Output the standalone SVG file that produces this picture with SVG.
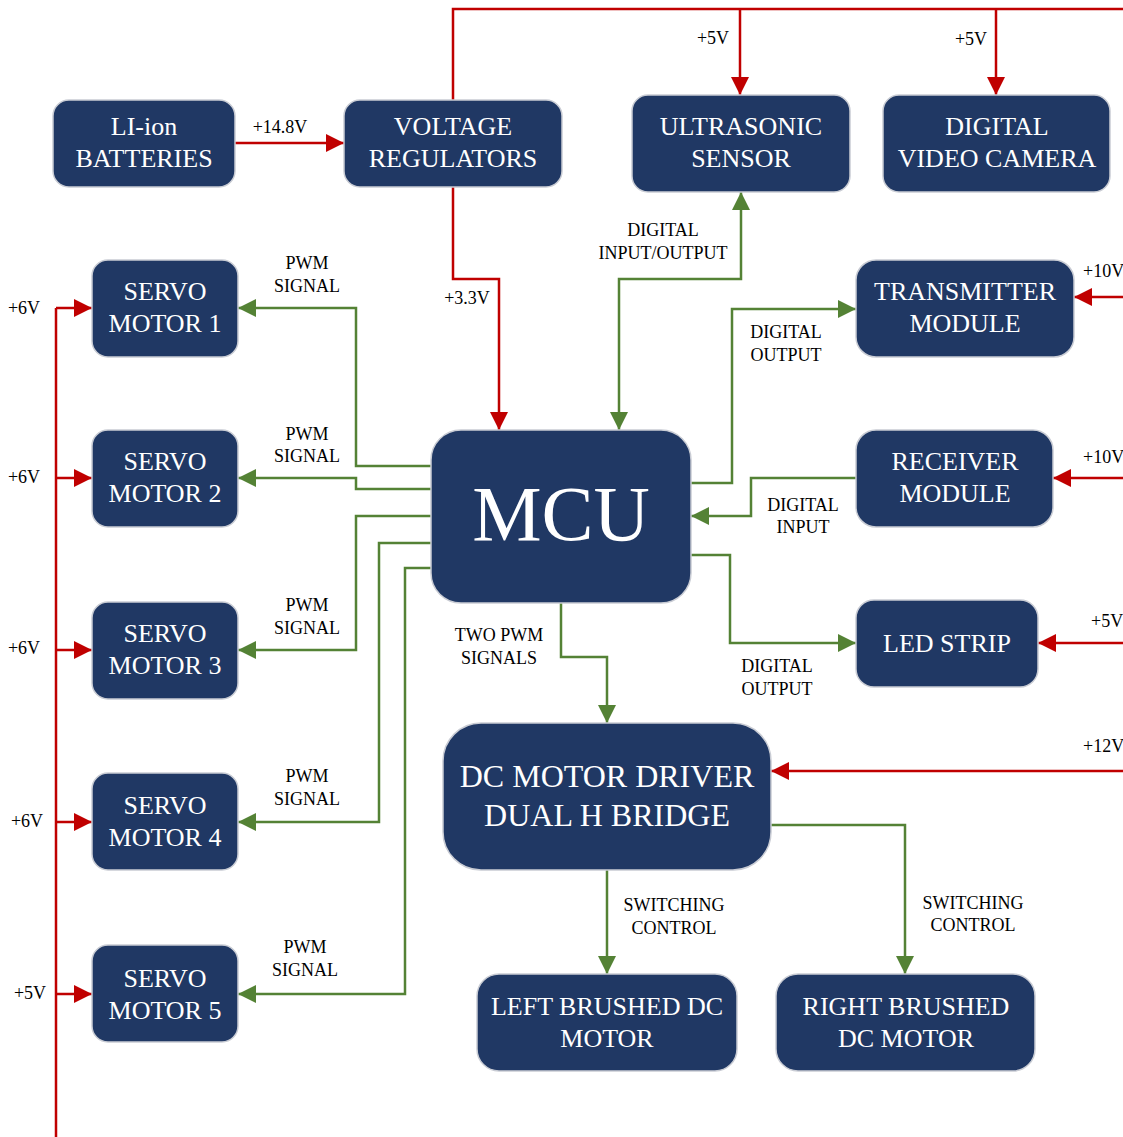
<svg xmlns="http://www.w3.org/2000/svg" width="1123" height="1137" viewBox="0 0 1123 1137">
<style>
.node rect{fill:#203864;stroke:#c9ccd4;stroke-width:1.5}
.nt{font-family:"Liberation Serif","Times New Roman",serif;font-size:26px;fill:#ffffff;text-anchor:middle}
.lb{font-family:"Liberation Serif","Times New Roman",serif;font-size:18px;fill:#000000;text-anchor:middle}
.red{fill:none;stroke:#C00000;stroke-width:2.5}
.grn{fill:none;stroke:#548235;stroke-width:2.5}
</style>
<defs>
<marker id="ar" markerUnits="userSpaceOnUse" markerWidth="18" markerHeight="18" refX="18" refY="9" orient="auto"><path d="M0,0 L18,9 L0,18 z" fill="#C00000"/></marker>
<marker id="ag" markerUnits="userSpaceOnUse" markerWidth="18" markerHeight="18" refX="18" refY="9" orient="auto"><path d="M0,0 L18,9 L0,18 z" fill="#548235"/></marker>
<marker id="ags" markerUnits="userSpaceOnUse" markerWidth="18" markerHeight="18" refX="18" refY="9" orient="auto-start-reverse"><path d="M0,0 L18,9 L0,18 z" fill="#548235"/></marker>
</defs>
<rect width="1123" height="1137" fill="#ffffff"/>
<g id="connectors">
<path class="red" d="M235,143 H344" marker-end="url(#ar)"/>
<path class="red" d="M453,100 V9 H1123"/>
<path class="red" d="M740,9 V95" marker-end="url(#ar)"/>
<path class="red" d="M996,9 V95" marker-end="url(#ar)"/>
<path class="red" d="M453,187 V279 H499 V430" marker-end="url(#ar)"/>
<path class="red" d="M56,308 V1137"/>
<path class="red" d="M56,308 H92" marker-end="url(#ar)"/>
<path class="red" d="M56,478 H92" marker-end="url(#ar)"/>
<path class="red" d="M56,650 H92" marker-end="url(#ar)"/>
<path class="red" d="M56,822 H92" marker-end="url(#ar)"/>
<path class="red" d="M56,994 H92" marker-end="url(#ar)"/>
<path class="red" d="M1123,297 H1074" marker-end="url(#ar)"/>
<path class="red" d="M1123,478 H1053" marker-end="url(#ar)"/>
<path class="red" d="M1123,643 H1038" marker-end="url(#ar)"/>
<path class="red" d="M1123,771 H771" marker-end="url(#ar)"/>
<path class="grn" d="M619,430 V279 H741 V192" marker-start="url(#ags)" marker-end="url(#ag)"/>
<path class="grn" d="M691,483 H732 V309 H856" marker-end="url(#ag)"/>
<path class="grn" d="M857,478 H751 V516 H691" marker-end="url(#ag)"/>
<path class="grn" d="M691,555 H730 V643 H856" marker-end="url(#ag)"/>
<path class="grn" d="M561,603 V657 H607 V723" marker-end="url(#ag)"/>
<path class="grn" d="M431,466 H356 V308 H238" marker-end="url(#ag)"/>
<path class="grn" d="M431,489 H356 V478 H238" marker-end="url(#ag)"/>
<path class="grn" d="M431,516 H356 V650 H238" marker-end="url(#ag)"/>
<path class="grn" d="M431,543 H379 V822 H238" marker-end="url(#ag)"/>
<path class="grn" d="M431,568 H405 V994 H238" marker-end="url(#ag)"/>
<path class="grn" d="M607,870 V974" marker-end="url(#ag)"/>
<path class="grn" d="M771,825 H905 V974" marker-end="url(#ag)"/>
</g>
<g id="labels">
<text class="lb" x="280" y="133">+14.8V</text>
<text class="lb" x="713" y="44">+5V</text>
<text class="lb" x="971" y="45">+5V</text>
<text class="lb" x="467" y="304">+3.3V</text>
<text class="lb" x="663" y="236">DIGITAL</text>
<text class="lb" x="663" y="259">INPUT/OUTPUT</text>
<text class="lb" x="786" y="338">DIGITAL</text>
<text class="lb" x="786" y="361">OUTPUT</text>
<text class="lb" x="803" y="511">DIGITAL</text>
<text class="lb" x="803" y="533">INPUT</text>
<text class="lb" x="777" y="672">DIGITAL</text>
<text class="lb" x="777" y="695">OUTPUT</text>
<text class="lb" x="499" y="641">TWO PWM</text>
<text class="lb" x="499" y="664">SIGNALS</text>
<text class="lb" x="674" y="911">SWITCHING</text>
<text class="lb" x="674" y="934">CONTROL</text>
<text class="lb" x="973" y="909">SWITCHING</text>
<text class="lb" x="973" y="931">CONTROL</text>
<text class="lb" x="307" y="269">PWM</text>
<text class="lb" x="307" y="292">SIGNAL</text>
<text class="lb" x="307" y="440">PWM</text>
<text class="lb" x="307" y="462">SIGNAL</text>
<text class="lb" x="307" y="611">PWM</text>
<text class="lb" x="307" y="634">SIGNAL</text>
<text class="lb" x="307" y="782">PWM</text>
<text class="lb" x="307" y="805">SIGNAL</text>
<text class="lb" x="305" y="953">PWM</text>
<text class="lb" x="305" y="976">SIGNAL</text>
<text class="lb" x="24" y="314">+6V</text>
<text class="lb" x="24" y="483">+6V</text>
<text class="lb" x="24" y="654">+6V</text>
<text class="lb" x="27" y="827">+6V</text>
<text class="lb" x="30" y="999">+5V</text>
<text class="lb" x="1083" y="277" style="text-anchor:start">+10V</text>
<text class="lb" x="1083" y="463" style="text-anchor:start">+10V</text>
<text class="lb" x="1091" y="627" style="text-anchor:start">+5V</text>
<text class="lb" x="1083" y="752" style="text-anchor:start">+12V</text>
</g>
<g id="batteries" class="node"><rect x="53" y="100" width="182" height="87" rx="16"/><text class="nt" x="144" y="135">LI-ion</text><text class="nt" x="144" y="167">BATTERIES</text></g>
<g id="voltage-regulators" class="node"><rect x="344" y="100" width="218" height="87" rx="16"/><text class="nt" x="453" y="135">VOLTAGE</text><text class="nt" x="453" y="167">REGULATORS</text></g>
<g id="ultrasonic-sensor" class="node"><rect x="632" y="95" width="218" height="97" rx="16"/><text class="nt" x="741" y="135">ULTRASONIC</text><text class="nt" x="741" y="167">SENSOR</text></g>
<g id="video-camera" class="node"><rect x="883" y="95" width="227" height="97" rx="16"/><text class="nt" x="997" y="135">DIGITAL</text><text class="nt" x="997" y="167">VIDEO CAMERA</text></g>
<g id="servo-1" class="node"><rect x="92" y="260" width="146" height="97" rx="16"/><text class="nt" x="165" y="300">SERVO</text><text class="nt" x="165" y="332">MOTOR 1</text></g>
<g id="servo-2" class="node"><rect x="92" y="430" width="146" height="97" rx="16"/><text class="nt" x="165" y="470">SERVO</text><text class="nt" x="165" y="502">MOTOR 2</text></g>
<g id="servo-3" class="node"><rect x="92" y="602" width="146" height="97" rx="16"/><text class="nt" x="165" y="642">SERVO</text><text class="nt" x="165" y="674">MOTOR 3</text></g>
<g id="servo-4" class="node"><rect x="92" y="773" width="146" height="97" rx="16"/><text class="nt" x="165" y="814">SERVO</text><text class="nt" x="165" y="846">MOTOR 4</text></g>
<g id="servo-5" class="node"><rect x="92" y="945" width="146" height="97" rx="16"/><text class="nt" x="165" y="987">SERVO</text><text class="nt" x="165" y="1019">MOTOR 5</text></g>
<g id="transmitter" class="node"><rect x="856" y="260" width="218" height="97" rx="20"/><text class="nt" x="965" y="300">TRANSMITTER</text><text class="nt" x="965" y="332">MODULE</text></g>
<g id="receiver" class="node"><rect x="856" y="430" width="197" height="97" rx="20"/><text class="nt" x="955" y="470">RECEIVER</text><text class="nt" x="955" y="502">MODULE</text></g>
<g id="mcu" class="node"><rect x="431" y="430" width="260" height="173" rx="30"/><text class="nt" x="561" y="540" style="font-size:78px">MCU</text></g>
<g id="led-strip" class="node"><rect x="856" y="600" width="182" height="87" rx="18"/><text class="nt" x="947" y="652">LED STRIP</text></g>
<g id="motor-driver" class="node"><rect x="443" y="723" width="328" height="147" rx="38"/><text class="nt" x="607" y="787" style="font-size:32px">DC MOTOR DRIVER</text><text class="nt" x="607" y="826" style="font-size:32px">DUAL H BRIDGE</text></g>
<g id="left-motor" class="node"><rect x="477" y="974" width="260" height="97" rx="22"/><text class="nt" x="607" y="1015">LEFT BRUSHED DC</text><text class="nt" x="607" y="1047">MOTOR</text></g>
<g id="right-motor" class="node"><rect x="776" y="974" width="259" height="97" rx="22"/><text class="nt" x="906" y="1015">RIGHT BRUSHED</text><text class="nt" x="906" y="1047">DC MOTOR</text></g>
</svg>
